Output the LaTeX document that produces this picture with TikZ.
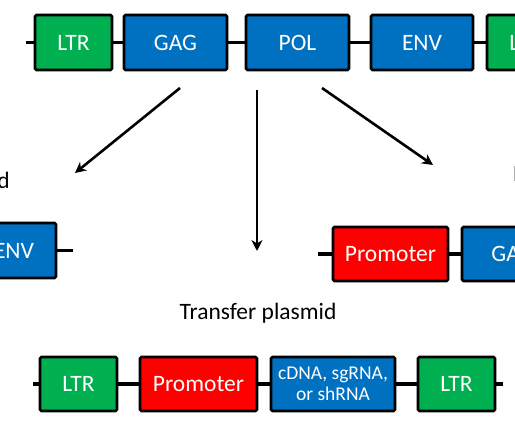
\documentclass[tikz,border=0pt]{standalone}
\usepackage{fontspec}
\setmainfont{Carlito}
\usetikzlibrary{arrows.meta}
\definecolor{genegreen}{RGB}{0,176,80}
\definecolor{geneblue}{RGB}{0,112,192}
\definecolor{genered}{RGB}{255,0,0}
\tikzset{
  gene/.style={draw=black, line width=2.7pt, rounded corners=1.5pt, minimum height=54pt,
    text=white, font=\fontsize{23.5}{26}\selectfont, inner sep=0pt, align=center},
  ltrbox/.style={gene, fill=genegreen, minimum width=77pt},
  bluebox/.style={gene, fill=geneblue},
  redbox/.style={gene, fill=genered},
  backbone/.style={line width=3.2pt},
  flow/.style={line width=2.6pt, -{Stealth[length=11pt,width=11pt]}},
  lbl/.style={font=\fontsize{23.5}{26}\selectfont, text=black, inner sep=0pt}
}
\begin{document}
\begin{tikzpicture}[x=1pt,y=-1pt]
\useasboundingbox (0,0) rectangle (515,430);
\clip (0,0) rectangle (515,430);
% top row
\coordinate (t0) at (26,42.5);
\node[ltrbox, minimum height=55pt] (tltr1) at (73.5,42.5) {LTR};
\node[bluebox, minimum width=103pt, minimum height=55pt] (tgag) at (175.5,42.5) {GAG};
\node[bluebox, minimum width=103pt, minimum height=55pt] (tpol) at (297.5,42.5) {POL};
\node[bluebox, minimum width=102pt, minimum height=55pt] (tenv) at (422,42.5) {ENV};
\node[ltrbox, minimum height=55pt] (tltr2) at (525.5,42.5) {LTR};
\draw[backbone] (t0) -- (tltr1.west);
\draw[backbone] (tltr1.east) -- (tgag.west);
\draw[backbone] (tgag.east) -- (tpol.west);
\draw[backbone] (tpol.east) -- (tenv.west);
\draw[backbone] (tenv.east) -- (tltr2.west);
% arrows
\coordinate (a1s) at (180,88);
\coordinate (a1e) at (75,173);
\coordinate (a2s) at (257,90);
\coordinate (a2e) at (257,251);
\coordinate (a3s) at (322,88);
\coordinate (a3e) at (433,165);
\draw[flow] (a1s) -- (a1e);
\draw[flow] (a2s) -- (a2e);
\draw[flow] (a3s) -- (a3e);
% left: envelope plasmid
\node[lbl, anchor=base east] (envlbl) at (10,189) {Envelope plasmid};
\node[bluebox, minimum width=102pt, minimum height=55pt] (menv) at (5,250.5) {\hspace*{18pt}ENV};
\coordinate (m0) at (73,250.5);
\draw[backbone] (menv.east) -- (m0);
% right: packaging plasmid
\node[lbl, anchor=base west] (packlbl) at (513,182) {Packaging plasmid};
\coordinate (r0) at (318,254);
\node[redbox, minimum width=115pt] (rprom) at (390.5,254) {Promoter};
\node[bluebox, minimum width=102pt] (rgag) at (513,254) {GAG};
\draw[backbone] (r0) -- (rprom.west);
\draw[backbone] (rprom.east) -- (rgag.west);
% transfer plasmid
\node[lbl] (tlbl) at (258,313) {Transfer plasmid};
\coordinate (b0) at (33,384);
\coordinate (b1) at (503,384);
\node[ltrbox] (bltr1) at (78.5,384) {LTR};
\node[redbox, minimum width=117pt] (bprom) at (198.5,384) {Promoter};
\node[bluebox, minimum width=124pt, font=\fontsize{19.5}{20.5}\selectfont] (bcdna) at (333,384) {cDNA, sgRNA,\\or shRNA};
\node[ltrbox] (bltr2) at (456.5,384) {LTR};
\draw[backbone] (b0) -- (bltr1.west);
\draw[backbone] (bltr1.east) -- (bprom.west);
\draw[backbone] (bprom.east) -- (bcdna.west);
\draw[backbone] (bcdna.east) -- (bltr2.west);
\draw[backbone] (bltr2.east) -- (b1);
\end{tikzpicture}
\end{document}
